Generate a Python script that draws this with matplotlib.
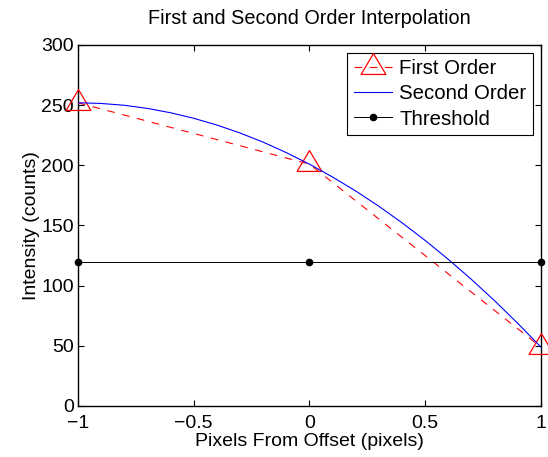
import numpy as np
import matplotlib
matplotlib.use('Agg')
import matplotlib.pyplot as plt
from matplotlib.path import Path

plt.rcParams['font.family'] = ['Liberation Sans', 'DejaVu Sans']
plt.rcParams['lines.scale_dashes'] = False

# --- data ---
x_pts = [-1, 0, 1]
first_order = [252, 201, 49]

x_curve = [-1.0, -0.9, -0.8, -0.7, -0.6, -0.5, -0.4, -0.3, -0.2, -0.1, 0.0,
           0.1, 0.2, 0.3, 0.4, 0.5, 0.6, 0.7, 0.8, 0.9, 1.0]
second_order = [252.0, 251.4, 249.9, 247.3, 243.7, 239.1, 233.5, 226.9, 219.3, 210.6, 201.0,
                190.3, 178.7, 166.0, 152.3, 137.6, 121.9, 105.2, 87.5, 68.7, 49.0]

threshold = [120, 120, 120]

x_ticks = [-1, -0.5, 0, 0.5, 1]
x_ticklabels = ['\u22121', '\u22120.5', '0', '0.5', '1']
y_ticks = [0, 50, 100, 150, 200, 250, 300]

# triangle marker with the data point at its centroid (like MATLAB)
tri = Path([(0, 1), (-0.893, -0.5), (0.893, -0.5), (0, 1)],
           [Path.MOVETO, Path.LINETO, Path.LINETO, Path.CLOSEPOLY])

fig = plt.figure(figsize=(5.48, 4.57), dpi=100)
ax = fig.add_axes([0.142, 0.1116, 0.845, 0.79])

ax.plot(x_pts, first_order, color='red', linestyle='--', dashes=(5.5, 5.5), linewidth=0.8,
        marker=tri, markersize=20, markerfacecolor='none', markeredgecolor='red',
        markeredgewidth=0.9, label='First Order', clip_on=False, zorder=3)
ax.plot(x_curve, second_order, color='blue', linewidth=0.8, label='Second Order', zorder=3)
ax.plot(x_pts, threshold, color='black', linewidth=0.7, marker='o', markersize=4.5,
        label='Threshold', clip_on=False, zorder=3)

ax.set_xlim(-1, 1)
ax.set_ylim(0, 300)
ax.set_xticks(x_ticks)
ax.set_xticklabels(x_ticklabels)
ax.set_yticks(y_ticks)
ax.tick_params(axis='both', direction='in', length=4, width=0.8, labelsize=14,
               top=True, right=True, pad=3)
ax.tick_params(axis='x', pad=6.5)
for s in ax.spines.values():
    s.set_linewidth(1.0)

ax.set_xlabel('Pixels From Offset (pixels)', fontsize=14, labelpad=0.5)
ax.set_ylabel('Intensity (counts)', fontsize=14, labelpad=1)
ax.set_title('First and Second Order Interpolation', fontsize=14.3, pad=15)

leg = ax.legend(loc='upper right', fontsize=14.7, handlelength=1.9, handletextpad=0.35,
                borderpad=0.3, labelspacing=0.3, borderaxespad=0.4,
                fancybox=False, framealpha=1, edgecolor='black')
leg.get_frame().set_linewidth(0.8)

fig.savefig('out.png', dpi=100)
